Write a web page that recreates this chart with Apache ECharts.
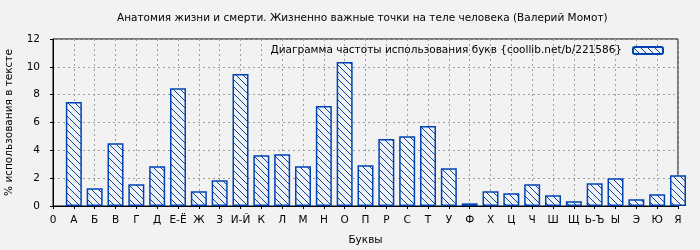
<!DOCTYPE html>
<html>
<head>
<meta charset="utf-8">
<script src="https://cdn.jsdelivr.net/npm/echarts@6/dist/echarts.min.js"></script>
<style>html,body{margin:0;padding:0;background:#f2f2f2;}#c{width:700px;height:250px;}</style>
</head>
<body>
<div id="c"></div>
<script>
const titleText = 'Анатомия жизни и смерти. Жизненно важные точки на теле человека (Валерий Момот)';
const seriesName = 'Диаграмма частоты использования букв {coollib.net/b/221586}';
const xAxisName = 'Буквы';
const yAxisName = '% использования в тексте';
const tickLabels = ['0','А','Б','В','Г','Д','Е-Ё','Ж','З','И-Й','К','Л','М','Н','О','П','Р','С','Т','У','Ф','Х','Ц','Ч','Ш','Щ','Ь-Ъ','Ы','Э','Ю','Я'];
const letterPositions = [1,2,3,4,5,6,7,8,9,10,11,12,13,14,15,16,17,18,19,20,21,22,23,24,25,26,27,28,29,30];
const letterValues = [7.47,1.27,4.51,1.56,2.86,8.47,1.06,1.85,9.48,3.65,3.72,2.86,7.18,10.34,2.93,4.82,5.02,5.74,2.71,0.19,1.06,0.91,1.56,0.77,0.34,1.63,1.99,0.48,0.84,2.21];

const BLUE = '#0044b4';
function hatch() {
  const s = 7;
  const cv = document.createElement('canvas');
  cv.width = s; cv.height = s;
  const g = cv.getContext('2d');
  g.fillStyle = '#f2f2f2';
  g.fillRect(0, 0, s, s);
  g.strokeStyle = BLUE;
  g.lineWidth = 1;
  g.beginPath();
  g.moveTo(-1, -1); g.lineTo(s + 1, s + 1);
  g.moveTo(s - 1, -1); g.lineTo(s + 1, 1);
  g.moveTo(-1, s - 1); g.lineTo(1, s + 1);
  g.stroke();
  return cv;
}

const chart = echarts.init(document.getElementById('c'), null, {renderer: 'canvas'});
const font = 'DejaVu Sans';
const FS = 10.5;
chart.setOption({
  backgroundColor: '#f2f2f2',
  animation: false,
  textStyle: {fontFamily: font},
  title: {
    text: titleText, left: 112, top: 8,
    textStyle: {fontFamily: font, fontSize: FS, fontWeight: 'normal', color: '#000'}
  },
  legend: {
    right: 31, top: 40, itemWidth: 30, itemHeight: 7, align: 'right', itemGap: 0,
    textStyle: {fontFamily: font, fontSize: FS, color: '#000', padding: [0, 6, 0, 0]},
    data: [seriesName]
  },
  grid: {left: 53, right: 22, top: 39, bottom: 44, show: true, borderColor: '#000', borderWidth: 1,
    backgroundColor: 'transparent', outerBoundsMode: 'none', containLabel: false},
  xAxis: {
    type: 'value', min: 0, max: 30, interval: 1,
    name: xAxisName, nameLocation: 'middle', nameGap: 29,
    nameTextStyle: {fontFamily: font, fontSize: FS, color: '#000'},
    axisLine: {show: true, lineStyle: {color: '#000', width: 1}},
    axisTick: {show: true, length: 3, lineStyle: {color: '#000'}},
    axisLabel: {color: '#000', fontSize: FS, fontFamily: font, margin: 9,
      formatter: v => tickLabels[Math.round(v)] ?? ''},
    splitLine: {show: true, lineStyle: {color: '#a0a0a0', type: [2, 3], width: 1}}
  },
  yAxis: {
    type: 'value', min: 0, max: 12, interval: 2,
    name: yAxisName, nameLocation: 'middle', nameGap: 38,
    nameTextStyle: {fontFamily: font, fontSize: FS, color: '#000'},
    axisLine: {show: true, lineStyle: {color: '#000', width: 1}},
    axisTick: {show: true, length: 3, lineStyle: {color: '#000'}},
    axisLabel: {color: '#000', fontSize: FS, fontFamily: font, margin: 13},
    splitLine: {show: true, lineStyle: {color: '#a0a0a0', type: [2, 3], width: 1}}
  },
  series: [{
    name: seriesName, type: 'bar', barWidth: 16, clip: true,
    data: letterPositions.map((p, i) => [p, letterValues[i]]),
    itemStyle: {color: {image: hatch(), repeat: 'repeat'}, borderColor: BLUE, borderWidth: 1.5},
    emphasis: {disabled: true}
  }]
});
</script>
</body>
</html>
